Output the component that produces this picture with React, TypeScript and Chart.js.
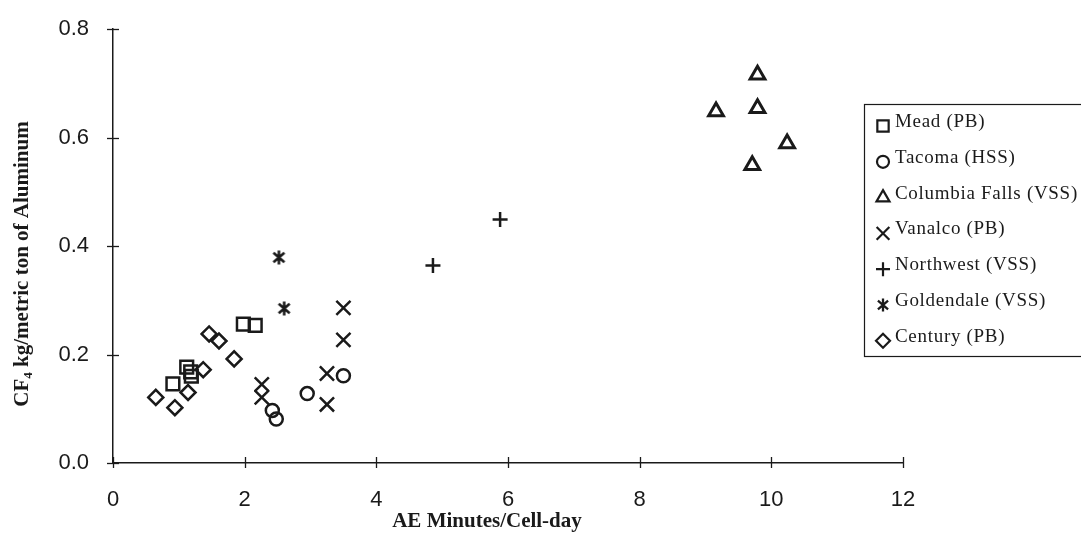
import React, { useEffect, useRef } from "react";
import { Chart, registerables } from "chart.js";
import { drawPoint } from "chart.js/helpers";

Chart.register(...registerables);

// ---- Data ----
const seriesNames = [
  "Mead (PB)",
  "Tacoma (HSS)",
  "Columbia Falls (VSS)",
  "Vanalco (PB)",
  "Northwest (VSS)",
  "Goldendale (VSS)",
  "Century (PB)",
];

const meadX = [0.91, 1.12, 1.18, 1.19, 1.98, 2.16];
const meadY = [0.146, 0.177, 0.168, 0.16, 0.256, 0.254];

const tacomaX = [2.42, 2.48, 2.95, 3.5];
const tacomaY = [0.097, 0.081, 0.128, 0.161];

const columbiaX = [9.16, 9.79, 9.79, 10.24, 9.71];
const columbiaY = [0.648, 0.716, 0.654, 0.589, 0.549];

const vanalcoX = [2.26, 2.26, 3.25, 3.25, 3.5, 3.5];
const vanalcoY = [0.145, 0.121, 0.165, 0.108, 0.227, 0.286];

const northwestX = [4.86, 5.88];
const northwestY = [0.364, 0.449];

const goldendaleX = [2.52, 2.6];
const goldendaleY = [0.379, 0.285];

const centuryX = [0.65, 0.94, 1.14, 1.37, 1.46, 1.61, 1.84];
const centuryY = [0.121, 0.102, 0.13, 0.172, 0.238, 0.225, 0.192];

const xTicks = [0, 2, 4, 6, 8, 10, 12];
const yTicks = [0, 0.2, 0.4, 0.6, 0.8];

const xTitle = "AE Minutes/Cell-day";
const yTitleMain = "CF";
const yTitleSub = "4";
const yTitleRest = " kg/metric ton of Aluminum";

// ---- Styles ----
const INK = "#1a1a1a";
const SERIF = '"Liberation Serif", "Times New Roman", serif';
const SANS = '"Liberation Sans", Arial, sans-serif';
const pointRadii = [9, 6.5, 8.5, 10, 7.5, 8, 7.5];
const pointBorders = [2.5, 2.5, 3, 2.5, 2.5, 2.5, 2.5];
const legendRadii = [8, 6, 7.5, 9, 7, 7, 7];

const seriesX = [meadX, tacomaX, columbiaX, vanalcoX, northwestX, goldendaleX, centuryX];
const seriesY = [meadY, tacomaY, columbiaY, vanalcoY, northwestY, goldendaleY, centuryY];

const W = 1081;
const H = 535;

function makeAsterisk(size: number, lw: number) {
  const c = document.createElement("canvas");
  c.width = size;
  c.height = size;
  const g = c.getContext("2d")!;
  const m = size / 2;
  const r = size / 2 - 1.5;
  const d = r * 0.78;
  g.strokeStyle = INK;
  g.lineWidth = lw;
  g.beginPath();
  g.moveTo(m, m - r);
  g.lineTo(m, m + r);
  g.moveTo(m - d, m - d * 0.85);
  g.lineTo(m + d, m + d * 0.85);
  g.moveTo(m + d, m - d * 0.85);
  g.lineTo(m - d, m + d * 0.85);
  g.stroke();
  return c;
}

const tickCrossPlugin = {
  id: "tickCross",
  afterDraw(chart: any) {
    const { ctx } = chart;
    const xs = chart.scales.x;
    const ys = chart.scales.y;
    const axisX = xs.getPixelForValue(0);
    const axisY = ys.getPixelForValue(0);
    ctx.save();
    ctx.strokeStyle = INK;
    ctx.lineWidth = 1.3;
    yTicks.forEach((v) => {
      const py = Math.round(ys.getPixelForValue(v)) + 0.5;
      ctx.beginPath();
      ctx.moveTo(axisX - 6, py);
      ctx.lineTo(axisX + 6, py);
      ctx.stroke();
    });
    xTicks.forEach((v) => {
      const px = Math.round(xs.getPixelForValue(v)) + 0.5;
      ctx.beginPath();
      ctx.moveTo(px, axisY - 6);
      ctx.lineTo(px, axisY + 5);
      ctx.stroke();
    });
    ctx.restore();
  },
};

const titlesPlugin = {
  id: "titles",
  afterDraw(chart: any) {
    const { ctx } = chart;
    ctx.save();
    ctx.fillStyle = INK;
    // x title
    ctx.font = `bold 21px ${SERIF}`;
    ctx.textAlign = "center";
    ctx.textBaseline = "middle";
    ctx.fillText(xTitle, 487, 522);
    // y title (rotated, with subscript)
    ctx.translate(21, 264);
    ctx.rotate(-Math.PI / 2);
    const bigFont = `bold 21px ${SERIF}`;
    const subFont = `bold 13px ${SERIF}`;
    ctx.font = bigFont;
    const w1 = ctx.measureText(yTitleMain).width;
    const w3 = ctx.measureText(yTitleRest).width;
    ctx.font = subFont;
    const w2 = ctx.measureText(yTitleSub).width;
    const total = w1 + w2 + w3;
    let x = -total / 2;
    ctx.textAlign = "left";
    ctx.textBaseline = "alphabetic";
    ctx.font = bigFont;
    ctx.fillText(yTitleMain, x, 7);
    x += w1;
    ctx.font = subFont;
    ctx.fillText(yTitleSub, x, 11);
    x += w2;
    ctx.font = bigFont;
    ctx.fillText(yTitleRest, x, 7);
    ctx.restore();
  },
};

const boxLegendPlugin = {
  id: "boxLegend",
  afterDraw(chart: any) {
    const { ctx } = chart;
    const left = 864;
    const top = 104;
    const rowH = 35.8;
    ctx.save();
    ctx.fillStyle = "#ffffff";
    ctx.fillRect(left, top, 240, 252);
    ctx.strokeStyle = INK;
    ctx.lineWidth = 1.2;
    ctx.strokeRect(left + 0.5, top + 0.5, 240, 252);
    chart.data.datasets.forEach((ds: any, i: number) => {
      const cy = top + 18 + i * rowH;
      ctx.strokeStyle = INK;
      ctx.fillStyle = "rgba(0,0,0,0)";
      ctx.lineWidth = 2.2;
      drawPoint(
        ctx,
        { pointStyle: ds.legendStyle, radius: legendRadii[i], borderWidth: 2.2, rotation: 0 } as any,
        left + 19,
        cy + 4
      );
      ctx.fillStyle = INK;
      ctx.font = `19px ${SERIF}`;
      (ctx as any).letterSpacing = "0.7px";
      ctx.textBaseline = "middle";
      ctx.textAlign = "left";
      ctx.fillText(ds.label, left + 31, cy);
      (ctx as any).letterSpacing = "0px";
    });
    ctx.restore();
  },
};

export default function App() {
  const canvasRef = useRef<HTMLCanvasElement | null>(null);

  useEffect(() => {
    document.body.style.margin = "0";
    const canvas = canvasRef.current;
    if (!canvas) return;

    const asterisk = makeAsterisk(17, 2.6);
    const asteriskSmall = makeAsterisk(16, 2.3);
    const pointStyles: any[] = ["rect", "circle", "triangle", "crossRot", "cross", asterisk, "rectRot"];
    const legendStyles: any[] = ["rect", "circle", "triangle", "crossRot", "cross", asteriskSmall, "rectRot"];

    const datasets = seriesNames.map((name, i) => ({
      label: name,
      data: seriesX[i].map((x, j) => ({ x, y: seriesY[i][j] })),
      pointStyle: pointStyles[i],
      legendStyle: legendStyles[i],
      pointRadius: pointRadii[i],
      pointHoverRadius: pointRadii[i],
      pointBorderWidth: pointBorders[i],
      borderColor: INK,
      backgroundColor: "rgba(0,0,0,0)",
      pointBackgroundColor: "rgba(0,0,0,0)",
      pointBorderColor: INK,
      showLine: false,
    }));

    const chart = new Chart(canvas, {
      type: "scatter",
      data: { datasets } as any,
      options: {
        animation: false,
        responsive: false,
        devicePixelRatio: 1,
        events: [],
        layout: { padding: { left: 0, right: 178, top: 26, bottom: 0 } },
        plugins: {
          legend: { display: false },
          tooltip: { enabled: false },
        },
        scales: {
          x: {
            type: "linear",
            min: 0,
            max: 12,
            afterBuildTicks: (scale: any) => {
              scale.ticks = xTicks.map((v) => ({ value: v }));
            },
            ticks: {
              color: INK,
              padding: 16,
              font: { family: SANS, size: 22 },
              callback: (v: any) => String(v),
            },
            grid: { display: false },
            border: { display: true, color: INK, width: 1.5 },
            afterFit: (scale: any) => {
              scale.height = 72;
            },
          },
          y: {
            type: "linear",
            min: 0,
            max: 0.8,
            afterBuildTicks: (scale: any) => {
              scale.ticks = yTicks.map((v) => ({ value: v }));
            },
            ticks: {
              color: INK,
              padding: 16,
              font: { family: SANS, size: 22 },
              callback: (v: any) => Number(v).toFixed(1),
            },
            grid: { display: false },
            border: { display: true, color: INK, width: 1.5 },
            afterFit: (scale: any) => {
              scale.width = 113;
            },
          },
        },
      } as any,
      plugins: [tickCrossPlugin, titlesPlugin, boxLegendPlugin],
    });

    return () => chart.destroy();
  }, []);

  return (
    <div style={{ position: "absolute", left: 0, top: 0, width: W, height: H, background: "#fff" }}>
      <canvas ref={canvasRef} width={W} height={H} style={{ width: W, height: H, display: "block" }} />
    </div>
  );
}
